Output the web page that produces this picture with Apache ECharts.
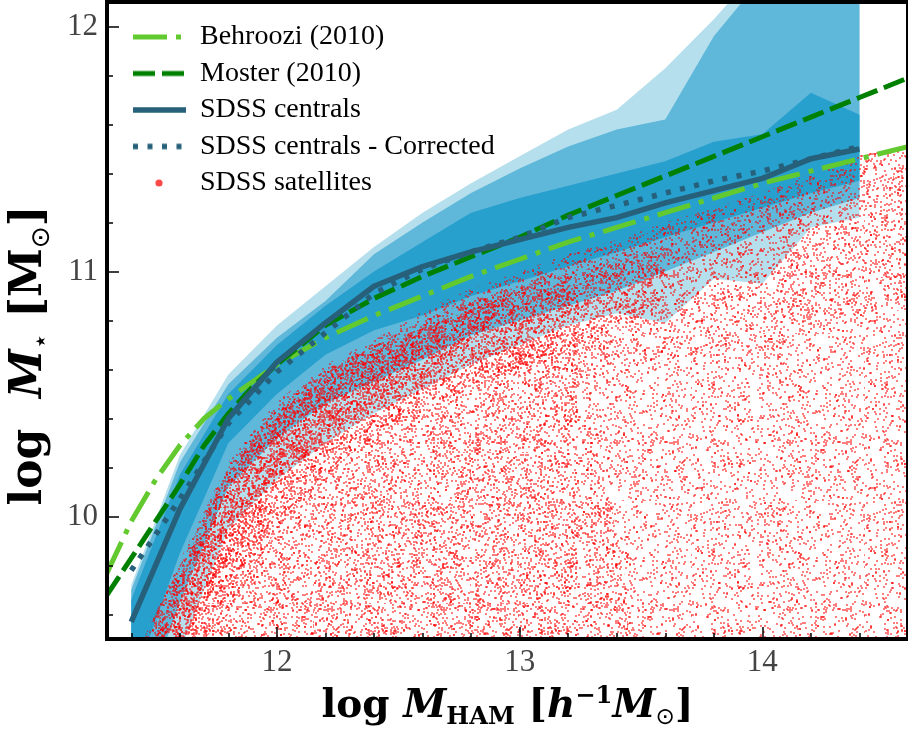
<!DOCTYPE html>
<html><head><meta charset="utf-8">
<script src="https://cdn.jsdelivr.net/npm/echarts@6/dist/echarts.min.js"></script>
<style>html,body{margin:0;padding:0;background:#fff}#c{width:908px;height:740px}</style>
</head><body><div id="c"></div>
<script>
// ---------- data ----------
const binX = [11.4, 11.6, 11.8, 12.0, 12.2, 12.4, 12.6, 12.8, 13.0, 13.2, 13.4, 13.6, 13.8, 14.0, 14.2, 14.4];
const centrals     = [9.57, 10.03, 10.40, 10.63, 10.79, 10.94, 11.02, 11.08, 11.13, 11.18, 11.22, 11.28, 11.33, 11.38, 11.46, 11.50];
const centralsCorr = [9.78, 10.07, 10.38, 10.59, 10.75, 10.91, 11.01, 11.08, 11.14, 11.22, 11.27, 11.32, 11.37, 11.41, 11.46, 11.51];
// percentile bands around the centrals
const darkLow   = [9.30, 9.85, 10.30, 10.50, 10.66, 10.76, 10.82, 10.90, 10.96, 11.02, 11.08, 11.14, 11.20, 11.26, 11.32, 11.37];
const darkHigh  = [9.66, 10.17, 10.50, 10.70, 10.86, 11.00, 11.12, 11.24, 11.30, 11.35, 11.40, 11.45, 11.53, 11.56, 11.73, 11.64];
const medLow    = [9.10, 9.65, 10.12, 10.32, 10.46, 10.55, 10.64, 10.74, 10.80, 10.86, 10.92, 11.00, 11.08, 11.16, 11.24, 11.30];
const medHigh   = [9.70, 10.22, 10.54, 10.73, 10.88, 11.07, 11.20, 11.32, 11.42, 11.51, 11.58, 11.62, 11.96, 12.20, 12.20, 12.20];
const lightLow  = [8.90, 9.45, 9.95, 10.15, 10.30, 10.42, 10.52, 10.62, 10.70, 10.78, 10.83, 10.79, 10.97, 10.95, 11.18, 11.22];
const lightHigh = [9.72, 10.25, 10.58, 10.78, 10.94, 11.10, 11.24, 11.36, 11.47, 11.58, 11.66, 11.83, 12.03, 12.25, 12.25, 12.25];

const modelX   = [11.3, 11.4, 11.5, 11.6, 11.7, 11.8, 11.9, 12.0, 12.2, 12.4, 12.6, 12.8, 13.0, 13.2, 13.4, 13.6, 13.8, 14.0, 14.2, 14.4, 14.6];
const behroozi = [9.77, 9.98, 10.15, 10.29, 10.40, 10.48, 10.55, 10.62, 10.73, 10.82, 10.90, 10.98, 11.05, 11.12, 11.18, 11.24, 11.30, 11.36, 11.41, 11.46, 11.51];
const moster   = [9.68, 9.83, 9.98, 10.13, 10.29, 10.42, 10.53, 10.62, 10.78, 10.89, 10.98, 11.06, 11.14, 11.23, 11.31, 11.39, 11.47, 11.55, 11.63, 11.71, 11.79];

// satellite cloud, drawn as nested density regions (outer envelope -> dense core)
const satX    = [11.45, 11.6, 11.8, 12.0, 12.2, 12.4, 12.6, 12.8, 13.0, 13.2, 13.4, 13.6, 13.8, 14.0, 14.2, 14.4, 14.6];
const satTop  = [9.50, 9.82, 10.22, 10.47, 10.62, 10.72, 10.84, 10.93, 11.00, 11.07, 11.13, 11.20, 11.26, 11.32, 11.40, 11.48, 11.50];
const satFloor = 9.4;
const midX     = [11.45, 11.6, 11.8, 12.0, 12.2, 12.4, 12.6, 12.8, 13.0, 13.2, 13.5];
const midTop   = [9.50, 9.80, 10.20, 10.45, 10.60, 10.70, 10.80, 10.88, 10.94, 10.99, 9.40];
const stripX   = [12.8, 13.2, 13.6, 14.0, 14.4, 14.6];
const stripTop = [10.90, 11.05, 11.18, 11.30, 11.45, 11.50];
const stripLow = [10.50, 10.58, 10.64, 10.70, 10.80, 10.85];
const ridgeX   = [11.45, 11.6, 11.8, 12.0, 12.2, 12.4, 12.6, 12.8, 13.0, 13.2, 13.4, 13.6];
const ridgeTop = [9.50, 9.80, 10.20, 10.45, 10.60, 10.70, 10.80, 10.88, 10.94, 10.99, 11.04, 11.10];
const ridgeLow = [9.40, 9.40, 9.60, 9.95, 10.18, 10.32, 10.44, 10.53, 10.60, 10.68, 10.76, 10.88];
const coreX    = [11.5, 11.6, 11.8, 12.0, 12.2, 12.4, 12.6, 12.9];
const coreTop  = [9.50, 9.78, 10.18, 10.42, 10.57, 10.67, 10.77, 10.88];
const coreLow  = [9.40, 9.45, 9.82, 10.12, 10.32, 10.46, 10.58, 10.80];

const xMajor = [12, 13, 14];
const xMinor = [11.4, 11.6, 11.8, 12.2, 12.4, 12.6, 12.8, 13.2, 13.4, 13.6, 13.8, 14.2, 14.4];
const yMajor = [10, 11, 12];
const yMinor = [9.6, 9.8, 10.2, 10.4, 10.6, 10.8, 11.2, 11.4, 11.6, 11.8];

// ---------- helpers ----------
const zip = (xs, ys) => xs.map((x, i) => [x, ys[i]]);
function bandPoly(xs, lo, hi) { return zip(xs, hi).concat(zip(xs, lo).reverse()); }
function floorPoly(xs, top, floor) { return zip(xs, top).concat([[xs[xs.length - 1], floor], [xs[0], floor]]); }
// decorative speckle texture for the satellite cloud (a fill style, not data)
function seq(a) {
  return function () {
    a |= 0; a = a + 0x6D2B79F5 | 0;
    let t = Math.imul(a ^ a >>> 15, 1 | a);
    t = t + Math.imul(t ^ t >>> 7, 61 | t) ^ t;
    return ((t ^ t >>> 14) >>> 0) / 4294967296;
  };
}
function speckle(w, h, n, seed, alpha) {
  const c = document.createElement('canvas'); c.width = w; c.height = h;
  const g = c.getContext('2d'); g.fillStyle = 'rgba(255,0,0,' + alpha + ')';
  const next = seq(seed * 7919 + 17);
  for (let i = 0; i < n; i++) {
    const u = next(), v = next();
    g.fillRect(Math.floor(u * w), Math.floor(v * h), 2, 2);
  }
  return { image: c, repeat: 'repeat' };
}
function polySeries(name, poly, fill, z) {
  return {
    type: 'custom', name: name, z: z, clip: true, silent: true, data: poly,
    renderItem: function (params, api) {
      if (params.dataIndex !== 0) return null;
      return { type: 'polygon', shape: { points: poly.map(p => api.coord(p)) }, style: { fill: fill } };
    }
  };
}
function lineIcon(color, width, dash) {
  const c = document.createElement('canvas'); c.width = 54; c.height = 14;
  const g = c.getContext('2d'); g.strokeStyle = color; g.lineWidth = width; g.setLineDash(dash || []);
  g.beginPath(); g.moveTo(1, 7); g.lineTo(54, 7); g.stroke();
  return 'image://' + c.toDataURL();
}
function dotIcon() {
  const c = document.createElement('canvas'); c.width = 54; c.height = 14;
  const g = c.getContext('2d'); g.fillStyle = '#ff4a4a';
  g.beginPath(); g.arc(27, 7, 3.6, 0, Math.PI * 2); g.fill();
  return 'image://' + c.toDataURL();
}

const serif = "'Liberation Serif', 'DejaVu Serif', serif";
const tserif = "'DejaVu Serif', serif";
const C_LIGHT = '#b5dfed', C_MED = '#5fb7da', C_DARK = '#27a0ce';
const C_CEN = '#27607a', C_BEH = '#62c92f', C_MOS = '#008000';

function makeRich(fs) {
  const s = fs / 37;
  return {
    b:   { fontFamily: tserif, fontSize: fs, fontWeight: 'bold', color: '#000', lineHeight: 42 * s },
    i:   { fontFamily: tserif, fontSize: fs, fontWeight: 'bold', fontStyle: 'italic', color: '#000', lineHeight: 42 * s },
    sub: { fontFamily: tserif, fontSize: 23 * s, fontWeight: 'bold', color: '#000', lineHeight: 23 * s, verticalAlign: 'bottom' },
    sup: { fontFamily: tserif, fontSize: 23 * s, fontWeight: 'bold', color: '#000', lineHeight: 25 * s, verticalAlign: 'top' },
    od:  { fontFamily: "'DejaVu Sans'", fontSize: 22 * s, color: '#000', lineHeight: 12 * s, verticalAlign: 'bottom' }
  };
}

const tickLabel = { fontFamily: serif, fontSize: 31, color: '#444' };

const chart = echarts.init(document.getElementById('c'), null, { renderer: 'canvas' });
const option = {
  animation: false,
  backgroundColor: '#fff',
  grid: { left: 107, right: -5, top: 2, bottom: 101, show: true, borderColor: '#000', borderWidth: 4, z: 10 },
  legend: {
    orient: 'vertical', left: 127, top: 18, itemWidth: 54, itemHeight: 14, itemGap: 8.5,
    selectedMode: false,
    textStyle: { fontFamily: serif, fontSize: 28, color: '#000', lineHeight: 26, padding: [0, 0, 0, 9] },
    data: [
      { name: 'Behroozi (2010)', icon: lineIcon(C_BEH, 5, [34, 9, 5, 9]) },
      { name: 'Moster (2010)', icon: lineIcon(C_MOS, 5, [22, 7]) },
      { name: 'SDSS centrals', icon: lineIcon(C_CEN, 5.5, []) },
      { name: 'SDSS centrals - Corrected', icon: lineIcon(C_CEN, 5.5, [5, 9.5]) },
      { name: 'SDSS satellites', icon: dotIcon() }
    ]
  },
  xAxis: [
    {
      type: 'value', min: 11.3, max: 14.6, z: 10,
      axisLine: { show: false }, splitLine: { show: false },
      axisTick: { inside: true, length: 12, customValues: xMajor, lineStyle: { color: '#000', width: 1.5 } },
      axisLabel: { customValues: xMajor, margin: 8, ...tickLabel },
      name: '{b|log }{i|M}{sub|HAM}{b| [}{i|h}{sup|−1}{i|M}{od|⊙}{b|]}',
      nameLocation: 'middle', nameGap: 46,
      nameTextStyle: { rich: makeRich(39) }
    },
    {
      type: 'value', min: 11.3, max: 14.6, position: 'bottom', z: 10,
      axisLine: { show: false }, splitLine: { show: false }, axisLabel: { show: false },
      axisTick: { inside: true, length: 6, customValues: xMinor, lineStyle: { color: '#000', width: 1.5 } }
    }
  ],
  yAxis: [
    {
      type: 'value', min: 9.5, max: 12.1, z: 10,
      axisLine: { show: false }, splitLine: { show: false },
      axisTick: { inside: true, length: 12, customValues: yMajor, lineStyle: { color: '#000', width: 1.5 } },
      axisLabel: { customValues: yMajor, margin: 9, ...tickLabel },
      name: '{b|log  }{i|M}{od|⋆}{b| [M}{od|⊙}{b|]}',
      nameLocation: 'middle', nameGap: 52, nameRotate: 90,
      nameTextStyle: { rich: makeRich(44), padding: [0, 70, 0, 0] }
    },
    {
      type: 'value', min: 9.5, max: 12.1, position: 'left', z: 10,
      axisLine: { show: false }, splitLine: { show: false }, axisLabel: { show: false },
      axisTick: { inside: true, length: 6, customValues: yMinor, lineStyle: { color: '#000', width: 1.5 } }
    }
  ],
  series: [
    polySeries('band-light', bandPoly(binX, lightLow, lightHigh), C_LIGHT, 1),
    polySeries('band-med', bandPoly(binX, medLow, medHigh), C_MED, 1),
    polySeries('band-dark', bandPoly(binX, darkLow, darkHigh), C_DARK, 1),
    polySeries('SDSS satellites', floorPoly(satX, satTop, satFloor), speckle(173, 167, 1350, 1, 0.5), 2),
    polySeries('SDSS satellites', floorPoly(midX, midTop, satFloor), speckle(157, 151, 900, 2, 0.5), 2),
    polySeries('SDSS satellites', bandPoly(stripX, stripLow, stripTop), speckle(149, 139, 500, 3, 0.5), 2),
    polySeries('SDSS satellites', bandPoly(ridgeX, ridgeLow, ridgeTop), speckle(163, 143, 1350, 4, 0.5), 2),
    polySeries('SDSS satellites', bandPoly(coreX, coreLow, coreTop), speckle(131, 127, 1500, 5, 0.5), 2),
    {
      type: 'line', name: 'Behroozi (2010)', data: zip(modelX, behroozi), symbol: 'none', z: 3, clip: true,
      lineStyle: { color: C_BEH, width: 5, type: [34, 9, 5, 9], cap: 'butt' }
    },
    {
      type: 'line', name: 'Moster (2010)', data: zip(modelX, moster), symbol: 'none', z: 3, clip: true,
      lineStyle: { color: C_MOS, width: 5, type: [22, 7], cap: 'butt' }
    },
    {
      type: 'line', name: 'SDSS centrals', data: zip(binX, centrals), symbol: 'none', z: 4, clip: true,
      lineStyle: { color: C_CEN, width: 5.5 }
    },
    {
      type: 'line', name: 'SDSS centrals - Corrected', data: zip(binX, centralsCorr), symbol: 'none', z: 4, clip: true,
      lineStyle: { color: C_CEN, width: 5.5, type: [5, 9.5], cap: 'butt' }
    }
  ]
};
chart.setOption(option);
</script>
</body></html>
